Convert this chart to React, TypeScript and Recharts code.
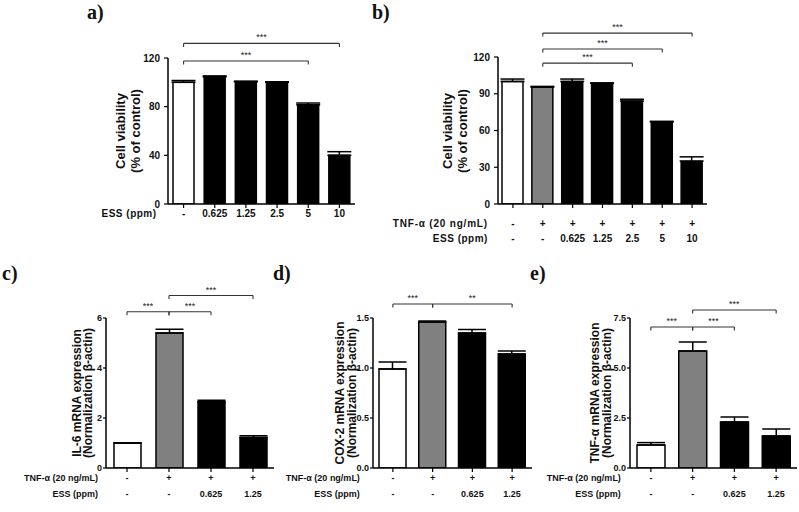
import React from "react";
import { BarChart, Bar, XAxis, YAxis, Cell, ErrorBar, ReferenceLine } from "recharts";

const SANS = "'Liberation Sans', Arial, Helvetica, sans-serif";
const SERIF = "'Liberation Serif', 'Times New Roman', serif";

const WHITE = "#ffffff";
const GRAY = "#808080";
const BLACK = "#000000";

// a) cell viability, ESS alone
const aEss = ["-", "0.625", "1.25", "2.5", "5", "10"];
const aMean = [100, 104.5, 100.5, 100, 81.5, 40];
const aSem = [1.5, 0.8, 0.5, 0.5, 1.5, 3];
const aFills = [WHITE, BLACK, BLACK, BLACK, BLACK, BLACK];
const aTicks = [0, 40, 80, 120];
const aSig = [
  { from: 0, to: 5, y: 132, label: "***" },
  { from: 0, to: 4, y: 117.5, label: "***" },
];

// b) cell viability with TNF-α
const bTnf = ["-", "+", "+", "+", "+", "+", "+"];
const bEss = ["-", "-", "0.625", "1.25", "2.5", "5", "10"];
const bMean = [100, 95.5, 100, 98.5, 84, 67, 35];
const bSem = [2, 0.5, 2, 0.3, 1.5, 0.5, 3.5];
const bFills = [WHITE, GRAY, BLACK, BLACK, BLACK, BLACK, BLACK];
const bTicks = [0, 30, 60, 90, 120];
const bSig = [
  { from: 1, to: 6, y: 139.5, label: "***" },
  { from: 1, to: 5, y: 126.5, label: "***" },
  { from: 1, to: 4, y: 115, label: "***" },
];

// c-e) mRNA expression
const mTnf = ["-", "+", "+", "+"];
const mEss = ["-", "-", "0.625", "1.25"];
const mFills = [WHITE, GRAY, BLACK, BLACK];

const cMean = [1.0, 5.4, 2.65, 1.22];
const cSem = [0, 0.15, 0.06, 0.07];
const cTicks = [0, 2, 4, 6];
const cSig = [
  { from: 0, to: 1, y: 6.25, label: "***" },
  { from: 1, to: 2, y: 6.25, label: "***" },
  { from: 1, to: 3, y: 6.9, label: "***" },
];

const dMean = [0.99, 1.46, 1.35, 1.14];
const dSem = [0.07, 0.01, 0.035, 0.03];
const dTicks = [0, 0.5, 1.0, 1.5];
const dSig = [
  { from: 0, to: 1, y: 1.64, label: "***" },
  { from: 1, to: 3, y: 1.64, label: "**" },
];

const eMean = [1.15, 5.85, 2.3, 1.6];
const eSem = [0.12, 0.45, 0.25, 0.35];
const eTicks = [0, 2.5, 5, 7.5];
const eSig = [
  { from: 0, to: 1, y: 7.05, label: "***" },
  { from: 1, to: 2, y: 7.05, label: "***" },
  { from: 1, to: 3, y: 7.9, label: "***" },
];

const YTitle = ({ lines, xs, cy, fontSize }: any) => (
  <g>
    {lines.map((t: string, i: number) => (
      <text
        key={i}
        x={xs[i]}
        y={cy}
        transform={`rotate(-90 ${xs[i]} ${cy})`}
        textAnchor="middle"
        dominantBaseline="central"
        fontFamily={SANS}
        fontWeight="bold"
        fontSize={fontSize}
        fill="#111"
      >
        {t}
      </text>
    ))}
  </g>
);

function makeTick(rows: any[], headerDx: number, fontSize: number) {
  return (props: any) => {
    const { x, y, payload } = props;
    const i = Number(payload.value);
    return (
      <g>
        {rows.map((r, k) => (
          <g key={k}>
            <text x={x} y={y + r.dy} textAnchor="middle" fontFamily={SANS} fontWeight="bold" fontSize={fontSize} fill="#111">
              {r.values[i]}
            </text>
            {i === 0 && (
              <text
                x={x + headerDx}
                y={y + r.dy}
                textAnchor="end"
                fontFamily={SANS}
                fontWeight="bold"
                fontSize={fontSize}
                letterSpacing={r.spacing || 0}
                fill="#111"
              >
                {r.header}
              </text>
            )}
          </g>
        ))}
      </g>
    );
  };
}

function Panel({ cfg }: any) {
  const data = cfg.mean.map((m: number, i: number) => ({
    key: String(i),
    mean: m,
    err: [0, cfg.sem[i]],
  }));
  const yMax = cfg.ticks[cfg.ticks.length - 1];
  const plotH = cfg.height - cfg.margin.top - cfg.margin.bottom - 40;
  const tickLen = (3.5 / plotH) * yMax;
  return (
    <div style={{ position: "absolute", left: cfg.left, top: cfg.top }}>
      <BarChart width={cfg.width} height={cfg.height} data={data} margin={cfg.margin}>
        <XAxis
          dataKey="key"
          interval={0}
          height={40}
          tickSize={4}
          tickMargin={0}
          axisLine={{ stroke: "#000", strokeWidth: 1.5 }}
          tickLine={{ stroke: "#000", strokeWidth: 1.2 }}
          tick={makeTick(cfg.rows, cfg.headerDx, cfg.xFont)}
        />
        <YAxis
          type="number"
          width={60}
          domain={[0, yMax]}
          allowDataOverflow
          ticks={cfg.ticks}
          tickFormatter={cfg.fmt}
          tickSize={cfg.tickSize}
          tickMargin={cfg.tickMargin}
          axisLine={{ stroke: "#000", strokeWidth: 1.5 }}
          tickLine={{ stroke: "#000", strokeWidth: 1.2 }}
          tick={{ fontSize: cfg.yFont, fontWeight: "bold", fill: "#111", fontFamily: SANS }}
          label={<YTitle lines={cfg.title} xs={cfg.titleX} cy={cfg.titleY} fontSize={cfg.titleFont} />}
        />
        <Bar dataKey="mean" barSize={cfg.barSize} isAnimationActive={false}>
          {data.map((_: any, i: number) => (
            <Cell key={i} fill={cfg.fills[i]} stroke="#000" strokeWidth={1.5} />
          ))}
          <ErrorBar dataKey="err" direction="y" width={cfg.cap} stroke="#000" strokeWidth={1.5} />
        </Bar>
        {cfg.sig.map((s: any, k: number) => (
          <ReferenceLine
            key={`h${k}`}
            ifOverflow="visible"
            segment={[
              { x: String(s.from), y: s.y },
              { x: String(s.to), y: s.y },
            ]}
            stroke="#333"
            strokeWidth={1.1}
            label={{ value: s.label, position: "top", offset: 3, fontSize: 9, fill: "#222", fontFamily: SANS }}
          />
        ))}
        {cfg.sig.flatMap((s: any, k: number) =>
          [s.from, s.to].map((c: number, j: number) => (
            <ReferenceLine
              key={`t${k}-${j}`}
              ifOverflow="visible"
              segment={[
                { x: String(c), y: s.y },
                { x: String(c), y: s.y - tickLen },
              ]}
              stroke="#333"
              strokeWidth={1.1}
            />
          ))
        )}
      </BarChart>
    </div>
  );
}

const fmt1 = (v: number) => v.toFixed(1);
const fmt0 = (v: number) => String(v);

const panels = [
  {
    left: 0, top: 0, width: 400, height: 260,
    margin: { top: 58, right: 45, bottom: 16, left: 108 },
    mean: aMean, sem: aSem, fills: aFills, ticks: aTicks, sig: aSig, fmt: fmt0,
    rows: [{ header: "ESS (ppm)", values: aEss, dy: 9, spacing: 0.5 }],
    headerDx: -27, xFont: 10, yFont: 10, tickSize: 4, tickMargin: 4,
    title: ["Cell viability", "(% of control)"], titleX: [120, 135], titleY: 131, titleFont: 13,
    barSize: 21, cap: 12,
  },
  {
    left: 370, top: 0, width: 429, height: 260,
    margin: { top: 57, right: 92, bottom: 16, left: 68 },
    mean: bMean, sem: bSem, fills: bFills, ticks: bTicks, sig: bSig, fmt: fmt0,
    rows: [
      { header: "TNF-α (20 ng/mL)", values: bTnf, dy: 18.5, spacing: 0.8 },
      { header: "ESS (ppm)", values: bEss, dy: 33.5, spacing: 0.5 },
    ],
    headerDx: -25, xFont: 10, yFont: 10, tickSize: 4, tickMargin: 4,
    title: ["Cell viability", "(% of control)"], titleX: [77, 92], titleY: 131, titleFont: 13,
    barSize: 21, cap: 12,
  },
  {
    left: 0, top: 260, width: 280, height: 252,
    margin: { top: 58, right: 6, bottom: 4, left: 46 },
    mean: cMean, sem: cSem, fills: mFills, ticks: cTicks, sig: cSig, fmt: fmt0,
    rows: [
      { header: "TNF-α (20 ng/mL)", values: mTnf, dy: 9 },
      { header: "ESS (ppm)", values: mEss, dy: 25 },
    ],
    headerDx: -29, xFont: 9, yFont: 9, tickSize: 3, tickMargin: 1,
    title: ["IL-6 mRNA expression", "(Normalization β-actin)"], titleX: [77, 88], titleY: 133, titleFont: 12,
    barSize: 27, cap: 14,
  },
  {
    left: 280, top: 260, width: 255, height: 252,
    margin: { top: 58, right: 3, bottom: 4, left: 33 },
    mean: dMean, sem: dSem, fills: mFills, ticks: dTicks, sig: dSig, fmt: fmt1,
    rows: [
      { header: "TNF-α (20 ng/mL)", values: mTnf, dy: 9 },
      { header: "ESS (ppm)", values: mEss, dy: 25 },
    ],
    headerDx: -33, xFont: 9, yFont: 9, tickSize: 3, tickMargin: 1,
    title: ["COX-2 mRNA expression", "(Normalization β-actin)"], titleX: [60, 72], titleY: 133, titleFont: 12,
    barSize: 27, cap: 14,
  },
  {
    left: 540, top: 260, width: 259, height: 252,
    margin: { top: 58, right: 2, bottom: 4, left: 30 },
    mean: eMean, sem: eSem, fills: mFills, ticks: eTicks, sig: eSig, fmt: fmt1,
    rows: [
      { header: "TNF-α (20 ng/mL)", values: mTnf, dy: 9 },
      { header: "ESS (ppm)", values: mEss, dy: 25 },
    ],
    headerDx: -30, xFont: 9, yFont: 9, tickSize: 3, tickMargin: 1,
    title: ["TNF-α mRNA expression", "(Normalization β-actin)"], titleX: [55, 67], titleY: 133, titleFont: 12,
    barSize: 28, cap: 14,
  },
];

const letters = [
  { text: "a)", x: 87, y: 18 },
  { text: "b)", x: 372, y: 18 },
  { text: "c)", x: 2, y: 279 },
  { text: "d)", x: 273, y: 279 },
  { text: "e)", x: 530, y: 279 },
];

export default function App() {
  return (
    <div style={{ position: "absolute", left: 0, top: 0, width: 799, height: 512, background: "#fff", overflow: "hidden" }}>
      {panels.map((p, i) => (
        <Panel key={i} cfg={p} />
      ))}
      {letters.map((l) => (
        <div
          key={l.text}
          style={{
            position: "absolute",
            left: l.x,
            top: l.y - 16,
            fontFamily: SERIF,
            fontWeight: "bold",
            fontSize: 20,
            lineHeight: "20px",
            color: "#111",
          }}
        >
          {l.text}
        </div>
      ))}
    </div>
  );
}
